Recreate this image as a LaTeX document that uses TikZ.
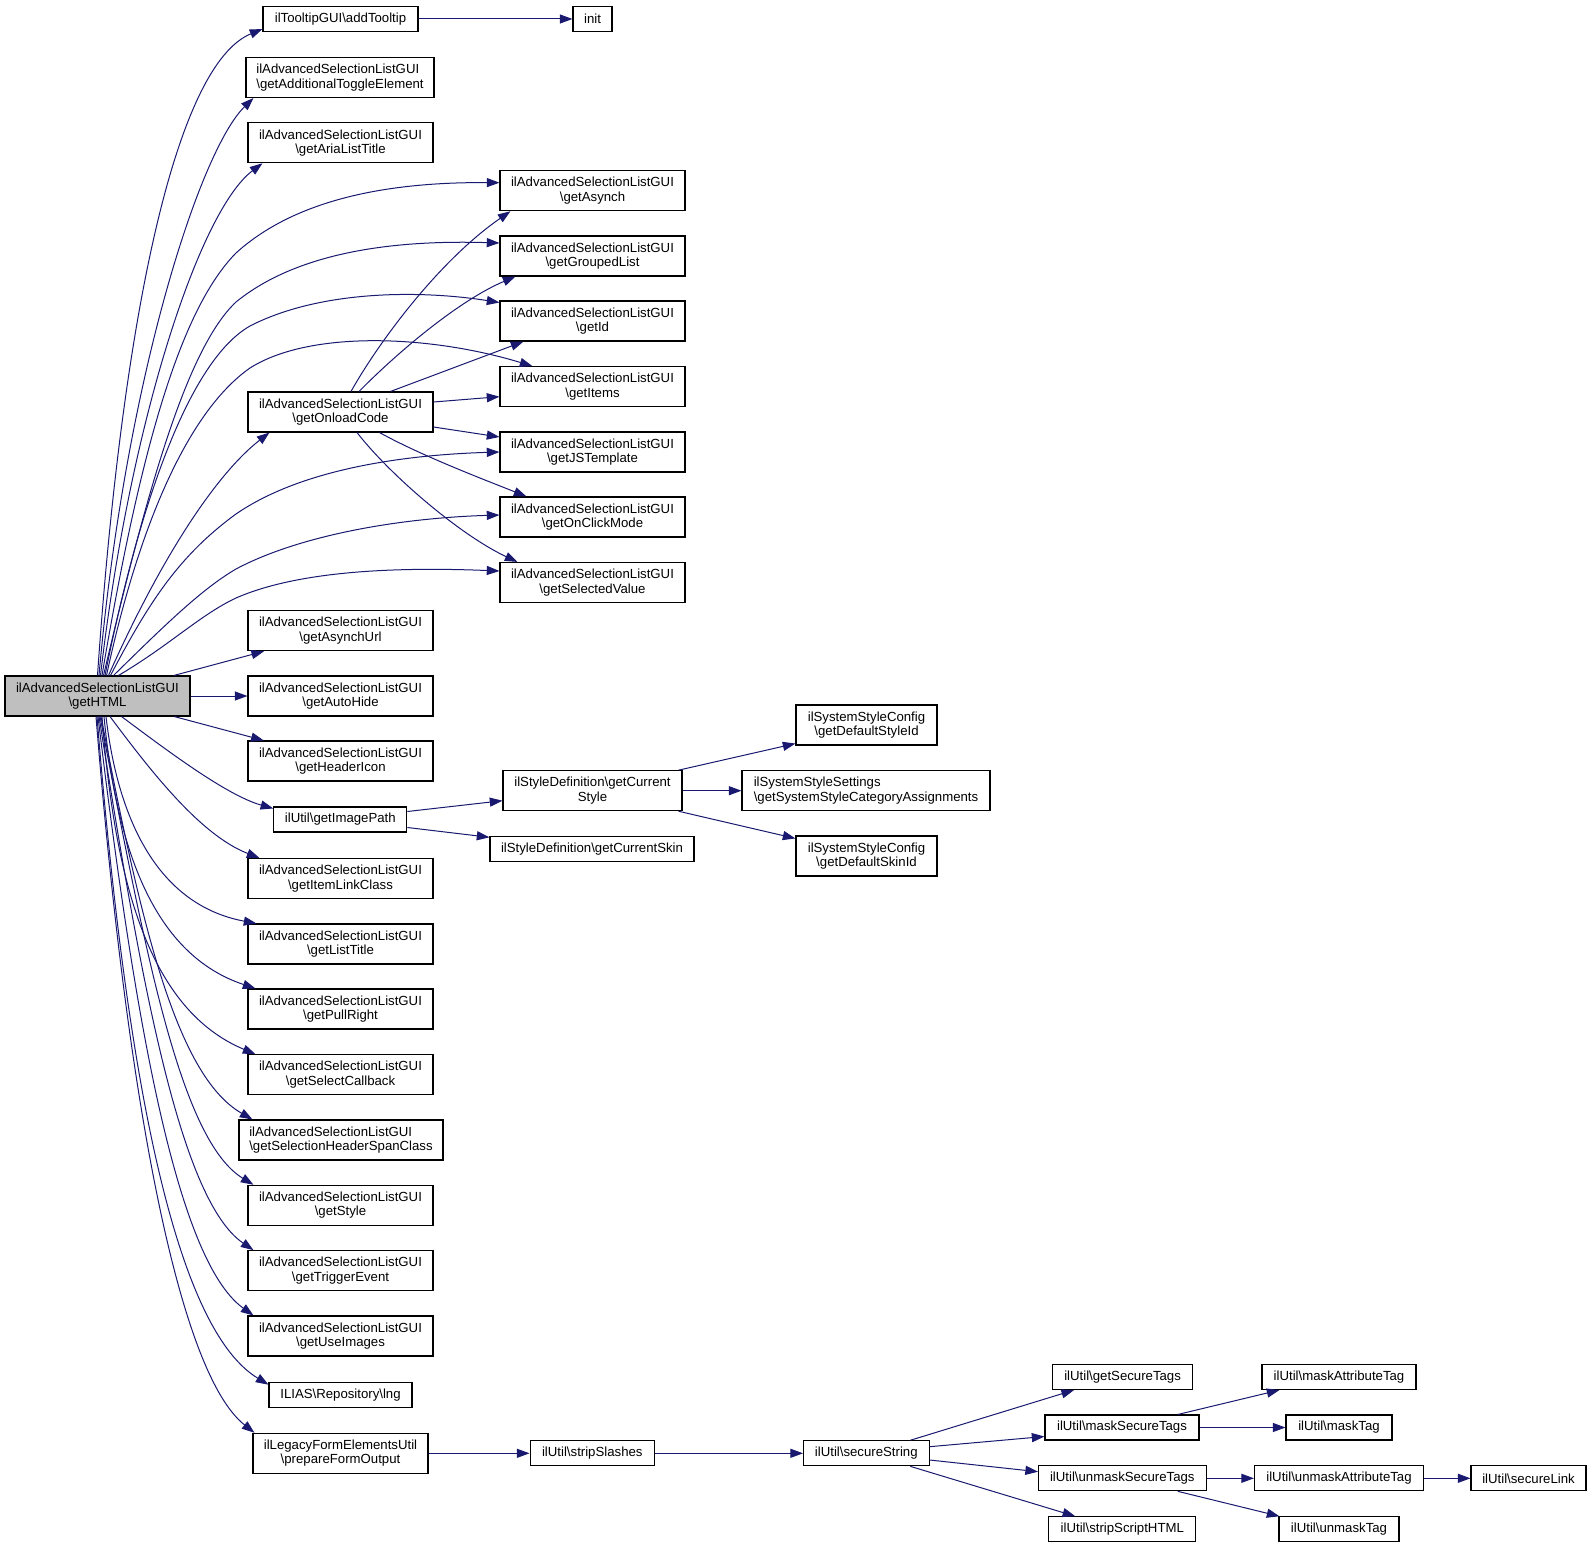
\documentclass[tikz,border=0pt]{standalone}
\usepackage{fontspec}
\setmainfont{Liberation Sans}
\usetikzlibrary{arrows.meta,calc}
\definecolor{edgecol}{RGB}{25,25,112}
\definecolor{hlfill}{RGB}{191,191,191}
\newcommand\myBS{\textbackslash}
\tikzset{
  box/.style={draw=black, line width=0.8pt, fill=white, inner sep=0pt, align=center,
    font=\fontsize{9.9pt}{10.7pt}\selectfont},
  sz/.style 2 args={minimum width={#1*0.75pt}, minimum height={#2*0.75pt}},
  conn/.style={draw=edgecol, line width=0.75pt, -{Triangle[length=9.5pt,width=6.8pt]}}
}
\begin{document}
\begin{tikzpicture}[x=0.75pt,y=-0.75pt]
\useasboundingbox (0,0) rectangle (1592,1548);
% nodes
\node[box,sz={185}{40},fill=hlfill] (html) at (97.5,696) {ilAdvancedSelectionListGUI\\\myBS getHTML};
\node[box,sz={155}{25}] (tooltip) at (340.5,19) {ilTooltipGUI\myBS addTooltip};
\node[box,sz={39}{25}] (init) at (592.5,19) {init};
\node[box,sz={188}{40},align=left] (toggle) at (340,77.5) {ilAdvancedSelectionListGUI\\\myBS getAdditionalToggleElement};
\node[box,sz={185}{40}] (aria) at (340.5,142.75) {ilAdvancedSelectionListGUI\\\myBS getAriaListTitle};
\node[box,sz={185}{40}] (asynch) at (592.5,190.7) {ilAdvancedSelectionListGUI\\\myBS getAsynch};
\node[box,sz={185}{40}] (grouped) at (592.5,256) {ilAdvancedSelectionListGUI\\\myBS getGroupedList};
\node[box,sz={185}{40}] (getid) at (592.5,321) {ilAdvancedSelectionListGUI\\\myBS getId};
\node[box,sz={185}{40}] (items) at (592.5,386.7) {ilAdvancedSelectionListGUI\\\myBS getItems};
\node[box,sz={185}{40}] (jstpl) at (592.5,452) {ilAdvancedSelectionListGUI\\\myBS getJSTemplate};
\node[box,sz={185}{40}] (onclick) at (592.5,517) {ilAdvancedSelectionListGUI\\\myBS getOnClickMode};
\node[box,sz={185}{40}] (selval) at (592.5,582.5) {ilAdvancedSelectionListGUI\\\myBS getSelectedValue};
\node[box,sz={185}{40}] (onload) at (340.5,412) {ilAdvancedSelectionListGUI\\\myBS getOnloadCode};
\node[box,sz={185}{40}] (asynchurl) at (340.5,630.7) {ilAdvancedSelectionListGUI\\\myBS getAsynchUrl};
\node[box,sz={185}{40}] (autohide) at (340.5,696) {ilAdvancedSelectionListGUI\\\myBS getAutoHide};
\node[box,sz={185}{40}] (headericon) at (340.5,761) {ilAdvancedSelectionListGUI\\\myBS getHeaderIcon};
\node[box,sz={133}{25}] (imgpath) at (340.3,819.5) {ilUtil\myBS getImagePath};
\node[box,sz={179}{40}] (curstyle) at (592.5,790.7) {ilStyleDefinition\myBS getCurrent\\Style};
\node[box,sz={204}{25}] (curskin) at (592,849.3) {ilStyleDefinition\myBS getCurrentSkin};
\node[box,sz={141}{40}] (defstyle) at (866.5,725) {ilSystemStyleConfig\\\myBS getDefaultStyleId};
\node[box,sz={248}{40},align=left] (sysstyle) at (866,790.7) {ilSystemStyleSettings\\\myBS getSystemStyleCategoryAssignments};
\node[box,sz={141}{40}] (defskin) at (866.5,856) {ilSystemStyleConfig\\\myBS getDefaultSkinId};
\node[box,sz={185}{40}] (itemlink) at (340.5,878.5) {ilAdvancedSelectionListGUI\\\myBS getItemLinkClass};
\node[box,sz={185}{40}] (listtitle) at (340.5,944) {ilAdvancedSelectionListGUI\\\myBS getListTitle};
\node[box,sz={185}{40}] (pullright) at (340.5,1009) {ilAdvancedSelectionListGUI\\\myBS getPullRight};
\node[box,sz={185}{40}] (selcb) at (340.5,1074.7) {ilAdvancedSelectionListGUI\\\myBS getSelectCallback};
\node[box,sz={204}{40},align=left] (spanclass) at (341,1140) {ilAdvancedSelectionListGUI\\\myBS getSelectionHeaderSpanClass};
\node[box,sz={185}{40}] (getstyle) at (340.5,1205.3) {ilAdvancedSelectionListGUI\\\myBS getStyle};
\node[box,sz={185}{40}] (trigger) at (340.5,1270.7) {ilAdvancedSelectionListGUI\\\myBS getTriggerEvent};
\node[box,sz={185}{40}] (useimg) at (340.5,1336) {ilAdvancedSelectionListGUI\\\myBS getUseImages};
\node[box,sz={143}{25}] (lng) at (340.5,1394.7) {ILIAS\myBS Repository\myBS lng};
\node[box,sz={175}{40}] (prepform) at (340.5,1453.3) {ilLegacyFormElementsUtil\\\myBS prepareFormOutput};
\node[box,sz={124.5}{25}] (strip) at (592.3,1453.3) {ilUtil\myBS stripSlashes};
\node[box,sz={125.5}{25}] (secstr) at (866.3,1453.3) {ilUtil\myBS secureString};
\node[box,sz={140}{25}] (gettags) at (1122.6,1377) {ilUtil\myBS getSecureTags};
\node[box,sz={154}{25}] (masktags) at (1122,1427.5) {ilUtil\myBS maskSecureTags};
\node[box,sz={167.5}{25}] (unmasktags) at (1122.3,1478.3) {ilUtil\myBS unmaskSecureTags};
\node[box,sz={147}{25}] (stripscript) at (1122.3,1529.3) {ilUtil\myBS stripScriptHTML};
\node[box,sz={154}{25}] (maskattr) at (1339,1377) {ilUtil\myBS maskAttributeTag};
\node[box,sz={106}{25}] (masktag) at (1339,1427.5) {ilUtil\myBS maskTag};
\node[box,sz={169}{25}] (unmaskattr) at (1339,1478.3) {ilUtil\myBS unmaskAttributeTag};
\node[box,sz={120}{25}] (unmasktag) at (1339,1529.3) {ilUtil\myBS unmaskTag};
\node[box,sz={115}{25}] (seclink) at (1528.5,1478.3) {ilUtil\myBS secureLink};
% edges from getHTML, upwards
\draw[conn] ($(html.north)+(0,0)$) .. controls (122,320) and (175,65) .. ($(tooltip.south west)+(0,-3)$);
\draw[conn] ($(html.north)+(1.5,0)$) .. controls (125,380) and (200,150) .. ($(toggle.south west)+(8,0)$);
\draw[conn] ($(html.north)+(3,0)$) .. controls (130,420) and (200,210) .. ($(aria.south west)+(15,0)$);
\draw[conn] ($(html.north)+(4.5,0)$) .. controls (140,450) and (180,310) .. (236,253) .. controls (300,195) and (400,182) .. ($(asynch.west)+(0,-8)$);
\draw[conn] ($(html.north)+(6,0)$) .. controls (145,500) and (185,350) .. (236,302) .. controls (300,250) and (400,240) .. ($(grouped.west)+(0,-13)$);
\draw[conn] ($(html.north)+(7.5,0)$) .. controls (140,500) and (190,360) .. (250,326) .. controls (320,290) and (420,290) .. ($(getid.west)+(0,-18.5)$);
\draw[conn] ($(html.north)+(9,0)$) .. controls (140,520) and (190,410) .. (250,368) .. controls (310,330) and (430,335) .. ($(items.north west)+(33,0)$);
\draw[conn] ($(html.north)+(11,0)$) .. controls (160,560) and (215,475) .. ($(onload.south west)+(22,0)$);
\draw[conn] ($(html.north)+(13,0)$) .. controls (150,600) and (180,555) .. (236,514) .. controls (300,470) and (400,455) .. (jstpl.west);
\draw[conn] ($(html.north)+(16,0)$) .. controls (160,630) and (200,590) .. (236,569) .. controls (300,535) and (400,518) .. ($(onclick.west)+(0,-2)$);
\draw[conn] ($(html.north)+(21,0)$) .. controls (170,645) and (200,615) .. (236,598) .. controls (300,570) and (400,567) .. ($(selval.west)+(0,-11.5)$);
% straight from getHTML
\draw[conn] (html) -- (asynchurl);
\draw[conn] (html) -- (autohide);
\draw[conn] (html) -- (headericon);
% edges from getHTML, downwards
\draw[conn] ($(html.south)+(24,0)$) .. controls (160,745) and (225,795) .. ($(imgpath.north west)+(0,2)$);
\draw[conn] ($(html.south)+(12.5,0)$) .. controls (150,770) and (200,835) .. ($(itemlink.north west)+(12,0)$);
\draw[conn] ($(html.south)+(8.5,0)$) .. controls (118,820) and (158,905) .. ($(listtitle.north west)+(9,0)$);
\draw[conn] ($(html.south)+(6.5,0)$) .. controls (117,852) and (155,955) .. ($(pullright.north west)+(8,0)$);
\draw[conn] ($(html.south)+(4.5,0)$) .. controls (115,885) and (150,1010) .. ($(selcb.north west)+(8,0)$);
\draw[conn] ($(html.south)+(3.5,0)$) .. controls (140,918) and (175,1075) .. ($(spanclass.north west)+(14,0)$);
\draw[conn] ($(html.south)+(2.5,0)$) .. controls (145,950) and (180,1140) .. ($(getstyle.north west)+(6,0)$);
\draw[conn] ($(html.south)+(1.5,0)$) .. controls (141,983) and (180,1200) .. ($(trigger.north west)+(6,0)$);
\draw[conn] ($(html.south)+(0.5,0)$) .. controls (134,1016) and (176,1260) .. ($(useimg.north west)+(6,0)$);
\draw[conn] ($(html.south)+(-0.5,0)$) .. controls (124,1050) and (170,1325) .. ($(lng.north west)+(0,3)$);
\draw[conn] ($(html.south)+(-1.5,0)$) .. controls (124.7,1075) and (175,1370) .. ($(prepform.north west)+(2,0)$);
% edges from getOnloadCode
\draw[conn] ($(onload.north)+(10.5,0)$) .. controls (380,340) and (440,260) .. ($(asynch.south west)+(11,0)$);
\draw[conn] ($(onload.north)+(18.5,0)$) .. controls (400,350) and (460,300) .. ($(grouped.south west)+(16,0)$);
\draw[conn] ($(onload.north)+(50,0)$) -- ($(getid.south west)+(24,0)$);
\draw[conn] ($(onload.east)+(0,-10)$) -- ($(items.west)+(0,10)$);
\draw[conn] ($(onload.east)+(0,15)$) -- ($(jstpl.west)+(0,-15)$);
\draw[conn] ($(onload.south)+(39,0)$) .. controls (420,455) and (480,478) .. ($(onclick.north west)+(27,0)$);
\draw[conn] ($(onload.south)+(16.5,0)$) .. controls (390,475) and (460,535) .. ($(selval.north west)+(18,0)$);
% other edges
\draw[conn] (tooltip) -- (init);
\draw[conn] ($(imgpath.east)+(0,-8)$) -- ($(curstyle.west)+(0,10)$);
\draw[conn] ($(imgpath.east)+(0,8)$) -- ($(curskin.west)+(0,-12)$);
\draw[conn] ($(curstyle.north east)+(-4,0)$) -- ($(defstyle.south west)+(0,-2)$);
\draw[conn] (curstyle) -- (sysstyle);
\draw[conn] ($(curstyle.south east)+(-4,0)$) -- ($(defskin.north west)+(0,3)$);
\draw[conn] (prepform) -- (strip);
\draw[conn] (strip) -- (secstr);
\draw[conn] ($(secstr.north)+(44,0)$) -- ($(gettags.south west)+(22,0)$);
\draw[conn] ($(secstr.east)+(0,-6.6)$) -- ($(masktags.west)+(0,9)$);
\draw[conn] ($(secstr.east)+(0,6.7)$) -- ($(unmasktags.west)+(0,-6.6)$);
\draw[conn] ($(secstr.south)+(44,0)$) -- ($(stripscript.north west)+(27,0)$);
\draw[conn] ($(masktags.north)+(55.8,0)$) -- ($(maskattr.south west)+(18,0)$);
\draw[conn] (masktags) -- (masktag);
\draw[conn] (unmasktags) -- (unmaskattr);
\draw[conn] ($(unmasktags.south)+(55.5,0)$) -- ($(unmasktag.north west)+(1,0)$);
\draw[conn] (unmaskattr) -- (seclink);
\end{tikzpicture}
\end{document}
